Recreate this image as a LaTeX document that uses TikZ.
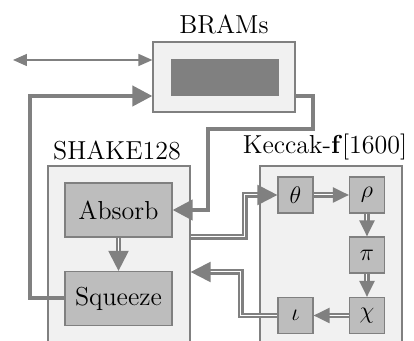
\documentclass[tikz,border=0pt]{standalone}
\usetikzlibrary{arrows.meta}
\definecolor{lg}{HTML}{F1F1F1}
\definecolor{mg}{HTML}{BDBDBD}
\definecolor{dg}{HTML}{808080}
\begin{document}
\begin{tikzpicture}[x=0.5pt,y=-0.5pt,
  txt/.style={font=\fontsize{13}{15}\selectfont},
  container/.style={draw=dg,fill=lg,line width=0.6pt,inner sep=0pt,minimum width=71pt,minimum height=95pt},
  block/.style={draw=dg,fill=mg,line width=0.6pt,inner sep=0pt,txt},
  small/.style={block,minimum width=17.5pt,minimum height=18pt},
  big/.style={block,minimum width=53.5pt,minimum height=27pt},
  thinarrow/.style={draw=dg,line width=0.8pt,{Triangle[length=7pt,width=6pt]}-{Triangle[length=7pt,width=6pt]}},
  thickarrow/.style={draw=dg,line width=2pt,-{Triangle[length=10pt,width=10pt]}},
  dblarrow/.style={draw=dg,line width=1.1pt,double=white,double distance=0.5pt,-{Triangle[length=10pt,width=10pt]}},
  sdblarrow/.style={draw=dg,line width=1.1pt,double=white,double distance=0.5pt,-{Triangle[length=8pt,width=7.5pt]}},
]
\useasboundingbox (0,0) rectangle (414,341);
\clip (0,0) rectangle (414,341);
% containers
\node[container] (shake) at (119,261) {};
\node[container] (keccak) at (331,261) {};
\node[txt] (shakelbl) at (117,150) {SHAKE128};
\node[txt] (keclbl) at (325,147) {Keccak-\textbf{f}[1600]};
% BRAMs
\node[draw=dg,fill=lg,line width=0.6pt,inner sep=0pt,minimum width=71pt,minimum height=35pt] (bram) at (224,77) {};
\node[fill=dg,inner sep=0pt,minimum width=54pt,minimum height=18.5pt] (bramin) at (225,77.5) {};
\node[txt] (bramlbl) at (224,24) {BRAMs};
% blocks
\node[big] (absorb) at (118.5,210) {Absorb};
\node[big] (squeeze) at (118.5,298.5) {Squeeze};
\node[small] (theta) at (295.5,195) {$\theta$};
\node[small] (rho) at (367,195) {$\rho$};
\node[small] (pi) at (367,255) {$\pi$};
\node[small] (chi) at (367,315.5) {$\chi$};
\node[small] (iota) at (295.5,315.5) {$\iota$};
% coordinates
\coordinate (ext) at (13,60);
\coordinate (lt) at (30,96);
\coordinate (r1) at (313,96);
\coordinate (r2) at (313,129);
\coordinate (r3) at (208,129);
\coordinate (d1) at (245,237);
\coordinate (d2) at (241,272);
% connectors
\draw[thinarrow] (ext) -- (ext -| bram.west);
\draw[thickarrow] (squeeze.west) -| (lt) -- (lt -| bram.west);
\draw[thickarrow] (r1 -| bram.east) -- (r1) -- (r2) -- (r3) -- (r3 |- absorb.east) -- (absorb.east);
\draw[dblarrow] (absorb.south) -- (squeeze.north);
\draw[dblarrow] (d1 -| shake.east) -- (d1) |- (theta.west);
\draw[sdblarrow] (theta.east) -- (rho.west);
\draw[sdblarrow] (rho.south) -- (pi.north);
\draw[sdblarrow] (pi.south) -- (chi.north);
\draw[sdblarrow] (chi.west) -- (iota.east);
\draw[dblarrow] (iota.west) -| (d2) -- (d2 -| shake.east);
\end{tikzpicture}
\end{document}
